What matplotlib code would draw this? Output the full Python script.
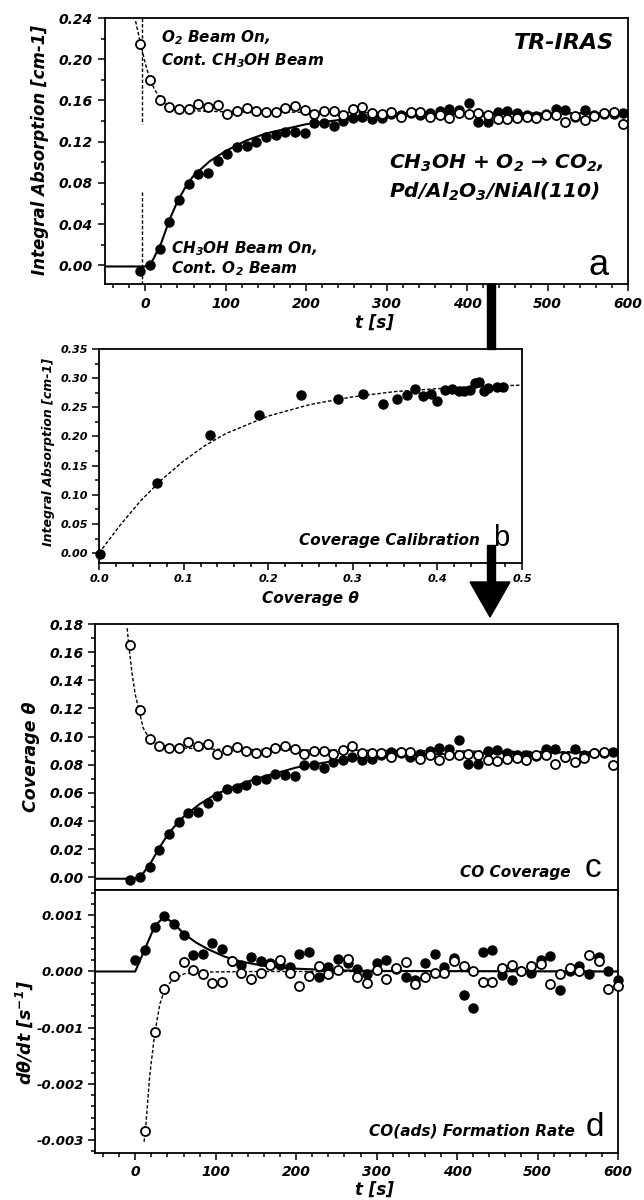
import matplotlib
matplotlib.use("Agg")
import matplotlib.pyplot as plt
from matplotlib.ticker import MultipleLocator, FormatStrFormatter
from matplotlib.patches import Polygon, Rectangle

# bold oblique everywhere (ticks too), the panel letters are set back to plain
plt.rcParams['font.family'] = ['DejaVu Sans']
plt.rcParams['font.weight'] = 'bold'
plt.rcParams['font.style'] = 'italic'
plt.rcParams['mathtext.default'] = 'regular'

# ---- panel a / c : time axis of the IRAS sweeps
t_scan = [-6, 6, 18, 30, 42, 54, 66, 78, 90, 102, 114, 126, 138, 150, 162, 174, 186,
          198, 210, 222, 234, 246, 258, 270, 282, 294, 306, 318, 330, 342, 354, 366,
          378, 390, 402, 414, 426, 438, 450, 462, 474, 486, 498, 510, 522, 534, 546,
          558, 570, 582, 594]

# integral absorption, CH3OH beam switched on (filled)
abs_meoh_on = [-0.005, 0.0006, 0.016, 0.042, 0.063, 0.079, 0.089, 0.090, 0.101, 0.108,
               0.115, 0.116, 0.120, 0.125, 0.1265, 0.129, 0.129, 0.128, 0.138, 0.138,
               0.135, 0.140, 0.1427, 0.144, 0.142, 0.143, 0.147, 0.146, 0.148, 0.146,
               0.148, 0.150, 0.152, 0.151, 0.158, 0.139, 0.139, 0.149, 0.150, 0.148,
               0.146, 0.145, 0.147, 0.152, 0.151, 0.144, 0.151, 0.146, 0.147, 0.147, 0.148]
# integral absorption, O2 beam switched on (open)
abs_o2_on = [0.215, 0.1795, 0.160, 0.1537, 0.1517, 0.152, 0.1566, 0.1533, 0.1556, 0.147,
             0.150, 0.1527, 0.1494, 0.1485, 0.149, 0.1527, 0.155, 0.151, 0.147, 0.1494,
             0.150, 0.146, 0.1517, 0.1537, 0.148, 0.147, 0.1485, 0.144, 0.149, 0.1485,
             0.144, 0.146, 0.143, 0.148, 0.147, 0.148, 0.146, 0.142, 0.142, 0.143,
             0.144, 0.143, 0.146, 0.1456, 0.139, 0.1446, 0.1407, 0.1446, 0.148, 0.149, 0.1375]

# fit curves
fit_a_on_t = [-50, 0, 5, 10, 20, 30, 40, 50, 60, 80, 100, 125, 150, 200, 250, 300, 400, 600]
fit_a_on = [-0.001, -0.001, 0.000, 0.006, 0.022, 0.044, 0.062, 0.076, 0.087, 0.101, 0.111,
            0.121, 0.128, 0.137, 0.142, 0.145, 0.147, 0.148]
fit_a_off_t = [-12, -6, 0, 6, 12, 18, 24, 30, 40, 60, 100, 600]
fit_a_off = [0.237, 0.216, 0.196, 0.180, 0.170, 0.163, 0.158, 0.155, 0.152, 0.150, 0.149, 0.147]

# ---- panel b : calibration
cal_cov = [0.0015, 0.069, 0.131, 0.189, 0.239, 0.2825, 0.312, 0.336, 0.352, 0.364, 0.374,
           0.383, 0.392, 0.3995, 0.409, 0.4175, 0.426, 0.432, 0.439, 0.444, 0.449, 0.455,
           0.460, 0.471, 0.477]
cal_abs = [-0.001, 0.121, 0.202, 0.236, 0.271, 0.2636, 0.273, 0.256, 0.264, 0.271, 0.281,
           0.270, 0.273, 0.261, 0.280, 0.281, 0.2785, 0.2785, 0.280, 0.2917, 0.293, 0.2775,
           0.2825, 0.285, 0.285]
cal_fit_cov = [0, 0.025, 0.05, 0.075, 0.1, 0.125, 0.15, 0.2, 0.25, 0.3, 0.35, 0.4, 0.45, 0.5]
cal_fit_abs = [0, 0.048, 0.091, 0.127, 0.158, 0.184, 0.205, 0.235, 0.255, 0.268, 0.277,
               0.282, 0.286, 0.288]

# ---- panel c : CO coverage
cov_meoh_on = [-0.0019, 0.0005, 0.0071, 0.0195, 0.0306, 0.0394, 0.0456, 0.0463, 0.0527,
               0.0577, 0.0627, 0.0634, 0.0655, 0.069, 0.0696, 0.0731, 0.0729, 0.072, 0.0796,
               0.0798, 0.0774, 0.082, 0.0834, 0.0855, 0.0836, 0.084, 0.0867, 0.0888, 0.088,
               0.0855, 0.0879, 0.0898, 0.0921, 0.0912, 0.0974, 0.0805, 0.0807, 0.0895,
               0.0905, 0.0883, 0.087, 0.0867, 0.086, 0.0912, 0.0914, 0.0855, 0.091, 0.0867,
               0.088, 0.088, 0.089]
cov_o2_on = [0.165, 0.119, 0.0986, 0.0933, 0.092, 0.0921, 0.096, 0.093, 0.095, 0.0874,
             0.0907, 0.0926, 0.0898, 0.0886, 0.0888, 0.092, 0.0936, 0.091, 0.0879, 0.0895,
             0.0898, 0.0879, 0.0907, 0.0933, 0.0883, 0.0886, 0.0883, 0.0853, 0.089, 0.0888,
             0.0843, 0.0867, 0.0836, 0.0867, 0.0872, 0.0876, 0.0867, 0.0831, 0.0826, 0.0843,
             0.085, 0.0836, 0.0867, 0.0867, 0.0803, 0.0855, 0.082, 0.0848, 0.0883, 0.089, 0.080]
fit_c_on_t = [-50, 0, 10, 20, 30, 40, 50, 60, 80, 100, 125, 150, 200, 250, 300, 400, 600]
fit_c_on = [-0.001, -0.001, 0.003, 0.011, 0.021, 0.030, 0.037, 0.043, 0.052, 0.059, 0.065,
            0.070, 0.078, 0.083, 0.086, 0.088, 0.089]
fit_c_off_t = [-10, -8, -4, 0, 5, 10, 17, 25, 35, 50, 100, 600]
fit_c_off = [0.177, 0.165, 0.145, 0.130, 0.118, 0.106, 0.099, 0.095, 0.093, 0.092, 0.091, 0.089]

# ---- panel d : formation rate
t_rate = [0, 12, 24, 36, 48, 60, 72, 84, 96, 108, 120, 132, 144, 156, 168, 180, 192, 204,
          216, 228, 240, 252, 264, 276, 288, 300, 312, 324, 336, 348, 360, 372, 384, 396,
          408, 420, 432, 444, 456, 468, 480, 492, 504, 516, 528, 540, 552, 564, 576, 588, 600]
rate_meoh_on = [0.0002, 0.00038, 0.00079, 0.00099, 0.00085, 0.00065, 0.0003, 0.00032, 0.0005,
                0.0004, 0.00018, 0.00012, 0.00025, 0.00018, 0.00015, 0.00012, 0.00008,
                0.00031, 0.00035, -0.0001, 0.00008, 0.00023, 0.00015, 0.00004, -0.00004,
                0.00015, 0.0002, 0.00004, -0.0001, -0.00015, 0.00015, 0.00031, 0.00008,
                0.00024, -0.00042, -0.00065, 0.00035, 0.00039, -0.00006, -0.00016, 0.0,
                -0.00003, 0.00021, 0.00027, -0.00033, 0.0, 0.00009, -0.00004, 0.00026, 0.0,
                -0.00016]
rate_o2_on = [-0.00283, -0.00108, -0.00032, -0.00008, 0.00016, 0.00003, -0.00004, -0.00021,
              -0.00018, 0.00018, -0.00002, -0.00014, -0.00003, 0.00011, 0.00021, -0.00003,
              -0.00025, -0.00008, 0.00009, -0.00004, 0.00003, 0.00022, -0.0001, -0.0002,
              0.00002, -0.00013, 0.00006, 0.00016, -0.00022, -0.00009, -0.00002, -0.00002,
              0.00018, 0.00009, 0.0, -0.00019, -0.00018, 0.00006, 0.00012, 0.00001, 0.0001,
              0.00013, -0.00023, -0.00004, 0.00006, 0.00001, 0.00029, 0.00018, -0.00032,
              -0.00026]
fit_d_on_t = [-50, 0, 12, 24, 36, 48, 60, 75, 90, 110, 130, 160, 200, 250, 300, 600]
fit_d_on = [0.0, 0.0, 0.0004, 0.0008, 0.00098, 0.00085, 0.00068, 0.00052, 0.0004, 0.00027,
            0.00018, 0.0001, 0.00005, 0.00002, 0.00001, 0.0]
fit_d_off_t = [11, 12.7, 18, 24.5, 30.6, 36.7, 46, 61, 87, 150, 600]
fit_d_off = [-0.00303, -0.00283, -0.00185, -0.00108, -0.00058, -0.00032, -0.00015, -0.00004,
             -0.00001, 0.0, 0.0]

W, H = 644, 1200
fig = plt.figure(figsize=(W / 100, H / 100), dpi=100)

# plain Arial-like face for the big panel letters
LETTER = dict(family='Liberation Sans', fontweight='normal', fontstyle='normal',
              ha='center', va='center')


def px_axes(l, t, r, b):
    return fig.add_axes([l / W, 1 - b / H, (r - l) / W, (b - t) / H])


def style(ax, size, pad=3):
    for s in ax.spines.values():
        s.set_linewidth(1.3)
    ax.tick_params(which='both', direction='out', top=False, right=False, width=1.1)
    ax.tick_params(which='major', length=5, pad=pad, labelsize=size)
    ax.tick_params(which='minor', length=3)


filled = dict(ls='none', marker='o', ms=6.5, mfc='black', mec='black', clip_on=False, zorder=3)
hollow = dict(ls='none', marker='o', ms=6.5, mfc='white', mec='black', mew=1.3, clip_on=False, zorder=4)
dash = dict(color='black', lw=1.0, ls=(0, (2.5, 1.5)))

# ---------------- panel a
ax = px_axes(105, 18, 628, 284)
ax.plot(fit_a_on_t, fit_a_on, color='black', lw=1.5, zorder=2)
ax.plot(fit_a_off_t, fit_a_off, **dash)
ax.plot([-4, -4], [0.24, 0.1375], **dash)
ax.plot([-4, -4], [0.071, -0.018], **dash)
ax.plot(t_scan, abs_meoh_on, **filled)
ax.plot(t_scan, abs_o2_on, **hollow)
ax.set_xlim(-50, 600)
ax.set_ylim(-0.018, 0.24)
ax.xaxis.set_major_locator(MultipleLocator(100))
ax.xaxis.set_minor_locator(MultipleLocator(20))
ax.yaxis.set_major_locator(MultipleLocator(0.04))
ax.yaxis.set_minor_locator(MultipleLocator(0.02))
ax.yaxis.set_major_formatter(FormatStrFormatter('%.2f'))
style(ax, 10, pad=4)
ax.text(20, 0.221, 'O$_2$ Beam On,', fontsize=11, va='center')
ax.text(20, 0.199, 'Cont. CH$_3$OH Beam', fontsize=11, va='center')
ax.text(583, 0.2157, 'TR-IRAS', fontsize=16, ha='right', va='center')
ax.text(303, 0.099, 'CH$_3$OH + O$_2$ \u2192 CO$_2$,', fontsize=14.5, va='center')
ax.text(303, 0.071, 'Pd/Al$_2$O$_3$/NiAl(110)', fontsize=14.5, va='center')
ax.text(32, 0.0165, 'CH$_3$OH Beam On,', fontsize=11, va='center')
ax.text(32, -0.003, 'Cont. O$_2$ Beam', fontsize=11, va='center')
ax.text(563, 0.0, 'a', fontsize=26, **LETTER)
fig.text(40 / W, 1 - 150 / H, 'Integral Absorption [cm-1]', rotation=90, fontsize=12,
         ha='center', va='center')
fig.text(374 / W, 1 - 323 / H, 't [s]', fontsize=12, ha='center', va='center')

# ---------------- panel b
ax = px_axes(99, 349, 522, 563)
ax.plot(cal_fit_cov, cal_fit_abs, **dash)
ax.plot(cal_cov, cal_abs, **filled)
ax.set_xlim(0, 0.5)
ax.set_ylim(-0.017, 0.35)
ax.xaxis.set_major_locator(MultipleLocator(0.1))
ax.xaxis.set_minor_locator(MultipleLocator(0.02))
ax.yaxis.set_major_locator(MultipleLocator(0.05))
ax.yaxis.set_minor_locator(MultipleLocator(0.025))
ax.xaxis.set_major_formatter(FormatStrFormatter('%.1f'))
ax.yaxis.set_major_formatter(FormatStrFormatter('%.2f'))
style(ax, 8)
ax.text(0.45, 0.022, 'Coverage Calibration', fontsize=11, ha='right', va='center')
ax.text(0.475, 0.026, 'b', fontsize=21, **LETTER)
fig.text(49 / W, 1 - 452 / H, 'Integral Absorption [cm-1]', rotation=90, fontsize=9,
         ha='center', va='center')
fig.text(310 / W, 1 - 598 / H, 'Coverage \u03b8', fontsize=11, ha='center', va='center')

# ---------------- panel c
axc = px_axes(95, 624, 618, 890)
axc.plot(fit_c_on_t, fit_c_on, color='black', lw=1.5, zorder=2)
axc.plot(fit_c_off_t, fit_c_off, **dash)
axc.plot(t_scan, cov_meoh_on, **filled)
axc.plot(t_scan, cov_o2_on, **hollow)
axc.set_xlim(-50, 600)
axc.set_ylim(-0.009, 0.18)
axc.xaxis.set_major_locator(MultipleLocator(100))
axc.xaxis.set_minor_locator(MultipleLocator(20))
axc.yaxis.set_major_locator(MultipleLocator(0.02))
axc.yaxis.set_minor_locator(MultipleLocator(0.01))
axc.yaxis.set_major_formatter(FormatStrFormatter('%.2f'))
style(axc, 10)
axc.tick_params(axis='x', labelbottom=False)
axc.text(541, 0.0036, 'CO Coverage', fontsize=11, ha='right', va='center')
axc.text(569, 0.0064, 'c', fontsize=24, **LETTER)
fig.text(31 / W, 1 - 757 / H, 'Coverage \u03b8', rotation=90, fontsize=12.5,
         ha='center', va='center')

# ---------------- panel d
axd = px_axes(95, 890, 618, 1153)
axd.plot(fit_d_on_t, fit_d_on, color='black', lw=1.5, zorder=2)
axd.plot(fit_d_off_t, fit_d_off, **dash)
axd.plot(t_rate, rate_meoh_on, **filled)
axd.plot(t_rate[1:], rate_o2_on, **hollow)
axd.set_xlim(-50, 600)
axd.set_ylim(-0.00323, 0.00145)
axd.xaxis.set_major_locator(MultipleLocator(100))
axd.xaxis.set_minor_locator(MultipleLocator(20))
axd.yaxis.set_major_locator(MultipleLocator(0.001))
axd.yaxis.set_minor_locator(MultipleLocator(0.0002))
axd.yaxis.set_major_formatter(FormatStrFormatter('%.3f'))
style(axd, 9.5, pad=3)
axd.tick_params(axis='x', labelsize=10, pad=4)
axd.text(547, -0.00283, 'CO(ads) Formation Rate', fontsize=11, ha='right', va='center')
axd.text(571, -0.00278, 'd', fontsize=24, **LETTER)
fig.text(24 / W, 1 - 1033 / H, 'd\u03b8/dt [s$^{-1}$]', rotation=90, fontsize=12.5,
         ha='center', va='center')
fig.text(374 / W, 1 - 1190 / H, 't [s]', fontsize=12, ha='center', va='center')

# ---------------- connecting arrow (a -> b -> c/d)
fig.patches.append(Rectangle((487 / W, 1 - 349 / H), 8 / W, 65 / H, transform=fig.transFigure,
                             color='black', zorder=10))
fig.patches.append(Rectangle((487 / W, 1 - 583 / H), 8 / W, 38 / H, transform=fig.transFigure,
                             color='black', zorder=10))
fig.patches.append(Polygon([(470 / W, 1 - 582 / H), (510 / W, 1 - 582 / H), (490 / W, 1 - 617 / H)],
                           closed=True, transform=fig.transFigure, color='black', zorder=10))

fig.savefig('out.png', dpi=100)
